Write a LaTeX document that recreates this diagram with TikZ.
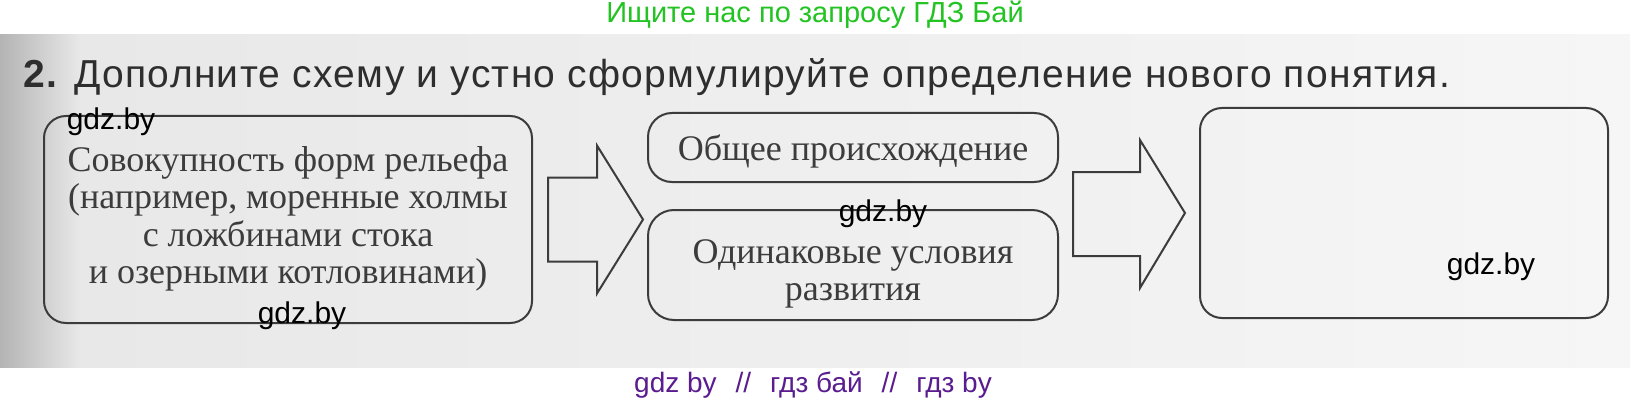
\documentclass[tikz,border=0pt]{standalone}
\usepackage{fontspec}
\setmainfont{Liberation Serif}
\newfontfamily\wmsans{Liberation Sans}
\newfontfamily\titlesans[LetterSpace=3.3]{Liberation Sans}
\usetikzlibrary{calc}
\definecolor{ink}{HTML}{3C3C3C}
\definecolor{titleink}{HTML}{2E2E2E}
\definecolor{hdrgreen}{HTML}{22C322}
\definecolor{ftrpurple}{HTML}{5A1C8E}
\definecolor{scanL}{HTML}{B4B4B4}
\definecolor{scanM}{HTML}{E8E8E8}
\definecolor{scanR}{HTML}{F6F6F6}
\tikzset{
  box/.style={draw=ink, line width=2pt, inner sep=0pt, outer sep=0pt},
  boxtxt/.style={text=ink, align=center, inner sep=0pt, font=\fontsize{36}{37.4}\selectfont},
  blockarrow/.style={draw=ink, line width=2pt, line join=miter},
  wm/.style={text=black, inner sep=0pt, anchor=base, font=\wmsans\fontsize{30}{30}\selectfont}
}
\begin{document}
\begin{tikzpicture}[x=1pt,y=-1pt]
\useasboundingbox (0,0) rectangle (1630,401);
\fill[white] (0,0) rectangle (1630,401);
\shade[left color=scanL, right color=scanM] (0,35) rectangle (80,367);
\shade[left color=scanM, right color=scanR] (80,35) rectangle (1630,367);

% header and footer
\node[anchor=base, inner sep=0pt, text=hdrgreen, font=\wmsans\fontsize{29}{29}\selectfont] (hdr) at (815,23) {Ищите нас по запросу ГДЗ Бай};
\node[anchor=base, inner sep=0pt, text=ftrpurple, font=\wmsans\fontsize{28}{28}\selectfont] (ftr) at (813,392) {gdz by\hspace{19pt}//\hspace{19pt}гдз бай\hspace{19pt}//\hspace{19pt}гдз by};

% title
\node[anchor=base west, inner sep=0pt, text=titleink, font=\titlesans\fontsize{39}{39}\selectfont] (title) at (23,88) {\textbf{2.} Дополните схему и устно сформулируйте определение нового понятия.};

% boxes
\node[box, rounded corners=22pt, minimum width=488pt, minimum height=207pt] (src) at (288,219.5) {};
\node[box, rounded corners=24pt, minimum width=410pt, minimum height=69pt] (orig) at (853,147.5) {};
\node[box, rounded corners=26pt, minimum width=410pt, minimum height=110pt] (cond) at (853,265) {};
\node[box, rounded corners=22pt, minimum width=408pt, minimum height=210pt] (res) at (1404,213) {};

% texts
\node[boxtxt] (srct) at (288,219) {Совокупность форм рельефа\\(например, моренные холмы\\с ложбинами стока\\и озерными котловинами)};
\node[boxtxt] (origt) at (853,151) {Общее происхождение};
\node[boxtxt] (condt) at (853,274) {Одинаковые условия\\развития};

% block arrows
\coordinate (a1) at ($(src.east)+(16,0)$);
\draw[blockarrow] (a1) ++(0,-42) -- ++(49,0) -- ++(0,-32) -- ($(orig.west|-src.east)+(-5,0)$) -- ($(a1)+(49,74)$) -- ++(0,-32) -- ++(-49,0) -- cycle;
\coordinate (a2) at ($(orig.east|-res.west)+(15,0)$);
\draw[blockarrow] (a2) ++(0,-41) -- ++(67,0) -- ++(0,-32) -- ($(res.west)+(-15,0)$) -- ($(a2)+(67,75)$) -- ++(0,-32) -- ++(-67,0) -- cycle;

% watermarks
\node[wm] (wm1) at (111,130) {gdz.by};
\node[wm] (wm2) at (302,323) {gdz.by};
\node[wm] (wm3) at (883,221) {gdz.by};
\node[wm] (wm4) at (1491,274) {gdz.by};
\end{tikzpicture}
\end{document}
